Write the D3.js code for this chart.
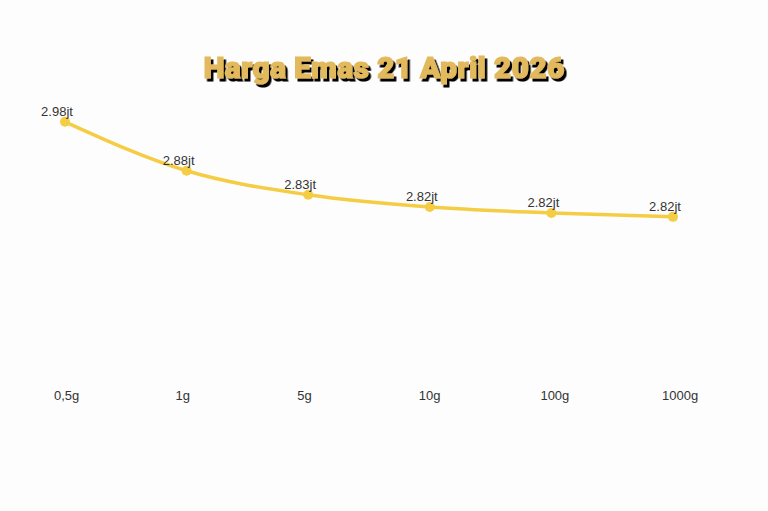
<!DOCTYPE html>
<html><head><meta charset="utf-8">
<script src="https://cdn.jsdelivr.net/npm/d3@7"></script>
<style>body{margin:0;background:#fdfdfd;} svg{display:block;}</style>
</head><body>
<svg id="c" width="768" height="511"></svg>
<script>
const categories = ["0,5g","1g","5g","10g","100g","1000g"];
const values = [2.98, 2.88, 2.831, 2.806, 2.794, 2.786];
const valueLabels = ["2.98jt","2.88jt","2.83jt","2.82jt","2.82jt","2.82jt"];
const title = "Harga Emas 21 April 2026";

const svg = d3.select("#c");
svg.append("rect").attr("width",768).attr("height",511).attr("fill","#fdfdfd");
const defs = svg.append("defs");
const f = defs.append("filter").attr("id","sh").attr("x","-10%").attr("y","-30%").attr("width","120%").attr("height","160%");
f.append("feDropShadow").attr("dx",2.5).attr("dy",3).attr("stdDeviation",0.4)
  .attr("flood-color","#000").attr("flood-opacity",1);

const x = d3.scalePoint().domain(categories).range([65,673]);
const y = d3.scaleLinear().domain([2.5,3.0]).range([357,112]);

// title
svg.append("text").attr("x",384).attr("y",78).attr("text-anchor","middle")
  .attr("font-family","Roboto").attr("font-weight",900).attr("font-size",30)
  .attr("letter-spacing",0.3)
  .attr("fill","#e2b95c").attr("stroke","#e2b95c").attr("stroke-width",1.2)
  .attr("filter","url(#sh)").text(title);

const data = categories.map((c,i)=>({c, v:values[i], l:valueLabels[i]}));
const line = d3.line().x(d=>x(d.c)).y(d=>y(d.v)).curve(d3.curveMonotoneX);
svg.append("path").datum(data).attr("d",line).attr("fill","none")
  .attr("stroke","#f5cd45").attr("stroke-width",3.5);
svg.selectAll("circle.pt").data(data).join("circle").attr("class","pt")
  .attr("cx",d=>x(d.c)).attr("cy",d=>y(d.v)).attr("r",5).attr("fill","#f5cd45");
svg.selectAll("text.lbl").data(data).join("text").attr("class","lbl")
  .attr("x",d=>x(d.c)-8).attr("y",d=>y(d.v)-6).attr("text-anchor","middle")
  .attr("font-family","Liberation Sans, Arial, sans-serif").attr("font-size",13)
  .attr("fill","#333").text(d=>d.l);

const xAxis = d3.axisBottom(x).tickSize(0).tickPadding(0);
const ax = svg.append("g").attr("transform","translate(0,391)").call(xAxis);
ax.select(".domain").remove();
ax.selectAll("text").attr("text-anchor","start").attr("dx",-11.5)
  .attr("font-family","Liberation Sans, Arial, sans-serif").attr("font-size",13).attr("fill","#333");
</script>
</body></html>
